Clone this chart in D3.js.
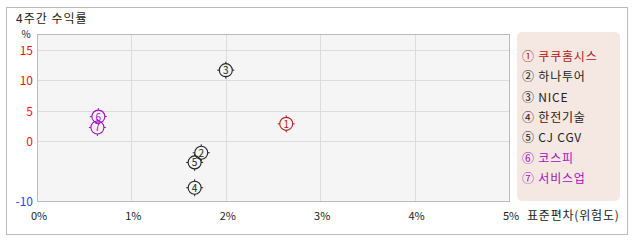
<!DOCTYPE html>
<html>
<head>
<meta charset="utf-8">
<script src="https://cdn.jsdelivr.net/npm/d3@7"></script>
<style>
body { margin: 0; background: #fff; }
svg text { font-family: "Noto Sans CJK KR", "DejaVu Sans", sans-serif; }
</style>
</head>
<body>
<svg id="chart" width="638" height="242"></svg>
<script>
// 종목 / 지수 (표준편차 %, 4주간 수익률 %)
var names = ["쿠쿠홈시스", "하나투어", "NICE", "한전기술", "CJ CGV", "코스피", "서비스업"];
var marks = ["①", "②", "③", "④", "⑤", "⑥", "⑦"];
var risk = [2.64, 1.74, 2.0, 1.67, 1.67, 0.65, 0.64];
var returns = [2.8, -2.0, 11.7, -7.8, -3.6, 4.0, 2.2];
var colors = ["#b0201c", "#222", "#222", "#222", "#222", "#a010c0", "#a010c0"];
var yTicks = [15, 10, 5, 0, -10];
var xTicks = [0, 1, 2, 3, 4, 5];

var svg = d3.select("#chart");

// outer frame
svg.append("rect")
    .attr("x", 6.5).attr("y", 7.5)
    .attr("width", 621).attr("height", 227)
    .attr("fill", "#fff").attr("stroke", "#bbb");

svg.append("text")
    .attr("x", 16).attr("y", 23)
    .attr("font-size", 12).attr("fill", "#222")
    .attr("letter-spacing", 1)
    .text("4주간 수익률");

var pLeft = 37, pRight = 509, pTop = 34, pBottom = 201;

var x = d3.scaleLinear().domain([0, 5]).range([pLeft, pRight]);
var y = d3.scaleLinear().domain([-10, 17.7]).range([pBottom, pTop]);

svg.append("rect")
    .attr("x", pLeft).attr("y", pTop)
    .attr("width", pRight - pLeft).attr("height", pBottom - pTop)
    .attr("fill", "#f5f5f5");

// grid
svg.selectAll(".hg")
    .data(yTicks.filter(function (d) { return d > -10; }))
    .enter().append("line")
    .attr("x1", pLeft).attr("x2", pRight)
    .attr("y1", function (d) { return Math.round(y(d)) + 0.5; })
    .attr("y2", function (d) { return Math.round(y(d)) + 0.5; })
    .attr("stroke", "#dcdcdc");

svg.selectAll(".vg")
    .data(xTicks.filter(function (d) { return d > 0 && d < 5; }))
    .enter().append("line")
    .attr("y1", pTop).attr("y2", pBottom)
    .attr("x1", function (d) { return Math.round(x(d)) + 0.5; })
    .attr("x2", function (d) { return Math.round(x(d)) + 0.5; })
    .attr("stroke", "#dcdcdc");

// plot border
svg.append("rect")
    .attr("x", pLeft + 0.5).attr("y", pTop + 0.5)
    .attr("width", pRight - pLeft).attr("height", pBottom - pTop)
    .attr("fill", "none").attr("stroke", "#bbb");

// y tick labels
svg.selectAll(".yl")
    .data(yTicks)
    .enter().append("text")
    .attr("x", pLeft - 4)
    .attr("y", function (d) { return y(d) + 5; })
    .attr("text-anchor", "end")
    .attr("font-size", 12)
    .attr("fill", function (d) { return d < 0 ? "#3344ee" : "#ee1111"; })
    .text(function (d) { return d; });

svg.append("text")
    .attr("x", 26).attr("y", 38)
    .attr("text-anchor", "middle")
    .attr("font-size", 10).attr("fill", "#222")
    .text("%");

// x tick labels
svg.selectAll(".xl")
    .data(xTicks)
    .enter().append("text")
    .attr("x", function (d) { return x(d) + 2; })
    .attr("y", 220)
    .attr("text-anchor", "middle")
    .attr("font-size", 11).attr("fill", "#222")
    .text(function (d) { return d + "%"; });

svg.append("text")
    .attr("x", 527).attr("y", 220)
    .attr("font-size", 12).attr("fill", "#222")
    .attr("letter-spacing", 0.8)
    .text("표준편차(위험도)");

// points
var pts = svg.selectAll(".pt")
    .data(names.map(function (n, i) { return i; }))
    .enter().append("g")
    .attr("transform", function (i) { return "translate(" + x(risk[i]) + "," + y(returns[i]) + ")"; });

pts.append("circle")
    .attr("r", 6.5)
    .attr("fill", "none")
    .attr("stroke", function (i) { return colors[i]; })
    .attr("stroke-width", 1.1);

[[0, -6.5, 0, -8.5], [0, 6.5, 0, 8.5], [-6.5, 0, -8.5, 0], [6.5, 0, 8.5, 0]].forEach(function (t) {
    pts.append("line")
        .attr("x1", t[0]).attr("y1", t[1]).attr("x2", t[2]).attr("y2", t[3])
        .attr("stroke", function (i) { return colors[i]; });
});

pts.append("text")
    .attr("y", 4)
    .attr("text-anchor", "middle")
    .attr("font-size", 10)
    .attr("fill", function (i) { return colors[i]; })
    .text(function (i) { return i + 1; });

// legend
svg.append("rect")
    .attr("x", 517).attr("y", 32)
    .attr("width", 103).attr("height", 169)
    .attr("rx", 5)
    .attr("fill", "#f5e8e2");

svg.selectAll(".lg")
    .data(names)
    .enter().append("text")
    .attr("x", 522)
    .attr("y", function (d, i) { return 61 + i * 20.3; })
    .attr("font-size", 12)
    .attr("letter-spacing", 0.8)
    .attr("fill", function (d, i) { return colors[i]; })
    .text(function (d, i) { return marks[i] + " " + d; });
</script>
</body>
</html>
